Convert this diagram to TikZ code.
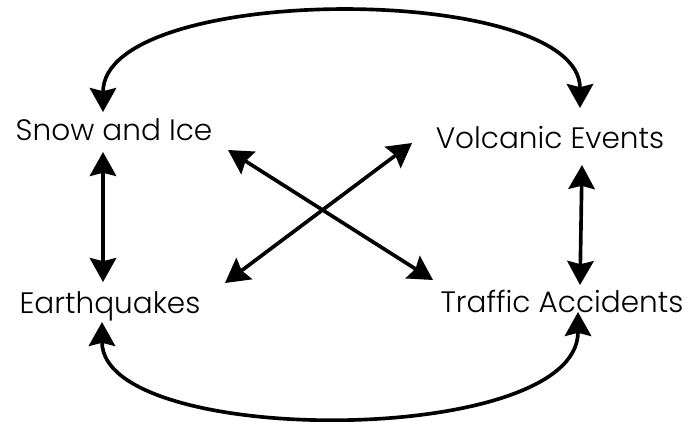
\documentclass[tikz,border=0pt]{standalone}
\usepackage{fontspec}
\setmainfont{Poppins}[UprightFont=* Light]
\usetikzlibrary{arrows.meta}
\tikzset{
  hazard/.style={anchor=base, inner sep=0pt, font=\fontsize{21}{24}\selectfont},
  link/.style={line width=2.6pt, draw=black, {Stealth[length=0.6cm, width=0.66cm, inset=0.08cm]}-{Stealth[length=0.6cm, width=0.66cm, inset=0.08cm]}}
}

\begin{document}
\begin{tikzpicture}[x=0.025cm, y=-0.025cm]
  \useasboundingbox (0,0) rectangle (689,421);

  \node[hazard] (snow) at (114,140) {Snow and Ice};
  \node[hazard] (volc) at (550,148) {Volcanic Events};
  \node[hazard] (quake) at (110,313) {Earthquakes};
  \node[hazard] (traffic) at (562,312) {Traffic Accidents};

  % curved links round the outside
  \draw[link] ([shift={(-11,-28)}]snow.base) .. controls +(0,-130) and +(0,-126) .. ([shift={(30,-40)}]volc.base);
  \draw[link] ([shift={(-8,9)}]quake.base) .. controls +(0,126) and +(0,136) .. ([shift={(16,0)}]traffic.base);

  \draw[link] ([shift={(-11,12)}]snow.base) -- ([shift={(-7,-31)}]quake.base);
  \draw[link] ([shift={(32,17)}]volc.base) -- ([shift={(18,-27)}]traffic.base);

  % crossing links
  \draw[link] ([shift={(114,10)}]snow.base) -- ([shift={(-129,-32)}]traffic.base);
  \draw[link] ([shift={(-138,-5)}]volc.base) -- ([shift={(115,-30)}]quake.base);
\end{tikzpicture}
\end{document}
